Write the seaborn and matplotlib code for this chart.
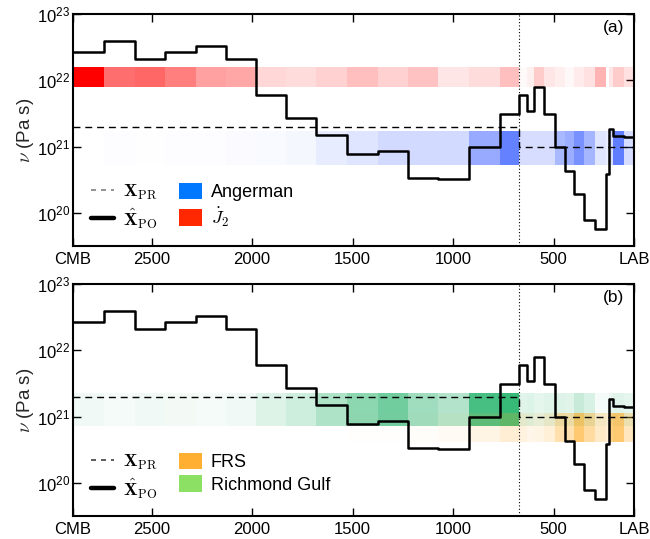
import numpy as np
import pandas as pd
import matplotlib
matplotlib.use("Agg")
import matplotlib.pyplot as plt
import seaborn as sns
from matplotlib.colors import LinearSegmentedColormap
from matplotlib.lines import Line2D
from matplotlib.patches import Patch
from matplotlib.ticker import NullLocator, FixedLocator, LogFormatterSciNotation

# ---------------- data ----------------
# layer edges (depth, km) from CMB up to LAB
layer_edges = [2891, 2736, 2583, 2434, 2281, 2129, 1981, 1832, 1681, 1530, 1376,
               1223, 1074, 923, 769, 670, 631, 600, 550, 495, 444, 399, 350,
               295, 241, 226, 206, 150, 100]
# posterior viscosity per layer (Pa s)
visc_po = [2.63e22, 3.98e22, 2.09e22, 2.63e22, 3.31e22, 2.09e22, 6.0e21, 2.7e21,
           1.48e21, 7.6e20, 8.5e20, 3.3e20, 3.2e20, 1.0e21, 3.1e21, 6.0e21,
           3.4e21, 7.8e21, 3.1e21, 1.0e21, 4.3e20, 1.95e20, 7.9e19, 5.8e19,
           3.9e20, 1.82e21, 1.45e21, 1.4e21]
# prior viscosity (lower mantle / upper mantle)
prior_edges = [2891, 670, 100]
visc_pr = [2e21, 1e21]

# sensitivity weights per layer for each data set
w_j2 = [1.0, 0.57, 0.6, 0.5, 0.37, 0.35, 0.16, 0.14, 0.18, 0.25, 0.18, 0.24, 0.1,
        0.14, 0.25, 0.02, 0.06, 0.2, 0.1, 0.07, 0.03, 0.08, 0.12, 0.3, 0.0, 0.1,
        0.2, 0.12]
w_angerman = [0.0, 0.01, 0.005, 0.01, 0.01, 0.02, 0.03, 0.05, 0.11, 0.16, 0.22,
              0.22, 0.22, 0.51, 0.76, 0.2, 0.2, 0.2, 0.2, 0.42, 0.49, 0.66, 0.44,
              0.15, 0.1, 0.2, 0.78, 0.2]
w_richmond = [0.07, 0.05, 0.07, 0.055, 0.05, 0.07, 0.15, 0.23, 0.37, 0.53, 0.65,
              0.44, 0.35, 0.84, 0.92, 0.14, 0.16, 0.12, 0.14, 0.15, 0.14, 0.25,
              0.18, 0.05, 0.05, 0.1, 0.14, 0.12]
w_frs = [0, 0, 0, 0, 0, 0, 0, 0, 0, 0.01, 0.01, 0.02, 0.05, 0.12, 0.2, 0.15, 0.1,
         0.12, 0.18, 0.38, 0.36, 0.65, 0.43, 0.25, 0.18, 0.57, 0.65, 0.3]

# vertical extents of the sensitivity bands (Pa s)
band_j2 = [7.9e21, 1.6e22]
band_angerman = [5.2e20, 1.7e21]
band_richmond = [7.3e20, 2.26e21]
band_frs = [4.15e20, 1.12e21]

xtick_pos = [2891, 2500, 2000, 1500, 1000, 500, 100]
xtick_lab = ["CMB", "2500", "2000", "1500", "1000", "500", "LAB"]
transition = 670

# ---------------- style ----------------
sns.set_style("ticks")
plt.rcParams["font.family"] = ["Liberation Sans", "DejaVu Sans"]
plt.rcParams["mathtext.fontset"] = "cm"
plt.rcParams["axes.linewidth"] = 1.5
plt.rcParams["axes.edgecolor"] = "k"
plt.rcParams["text.color"] = "k"
plt.rcParams["xtick.color"] = "k"
plt.rcParams["ytick.color"] = "k"
plt.rcParams["xtick.labelcolor"] = "k"
plt.rcParams["ytick.labelcolor"] = "k"

fig = plt.figure(figsize=(6.5, 5.39), dpi=100)
ax_a = fig.add_axes([0.1123, 0.5436, 0.8631, 0.4304])
ax_b = fig.add_axes([0.1123, 0.0427, 0.8631, 0.4304])

cell_colors = {
    "j2": (1.0, 0.0, 0.0),
    "angerman": (0.2, 0.35, 1.0),
    "richmond": (0.15, 0.70, 0.42),
    "frs": (1.0, 0.68, 0.15),
}
legend_colors = {
    "j2": "#FF2800",
    "angerman": "#0078FF",
    "richmond": "#8CE164",
    "frs": "#FFAF32",
}


def alpha_cmap(rgb):
    return LinearSegmentedColormap.from_list("a", [(*rgb, 0.0), (*rgb, 1.0)])


def draw_band(ax, weights, band, rgb):
    X = np.array(layer_edges, dtype=float)
    Y = np.array(band, dtype=float)
    C = np.array(weights, dtype=float)[None, :]
    ax.pcolormesh(X, Y, C, cmap=alpha_cmap(rgb), vmin=0, vmax=1,
                  shading="flat", edgecolors="none", linewidth=0, zorder=1)


def draw_lines(ax):
    df_po = pd.DataFrame({"depth": layer_edges,
                          "visc": list(visc_po) + [visc_po[-1]]})
    sns.lineplot(data=df_po, x="depth", y="visc", drawstyle="steps-post",
                 sort=False, estimator=None, color="k", lw=1.8, ax=ax, zorder=4)
    df_pr = pd.DataFrame({"depth": prior_edges,
                          "visc": list(visc_pr) + [visc_pr[-1]]})
    sns.lineplot(data=df_pr, x="depth", y="visc", drawstyle="steps-post",
                 sort=False, estimator=None, color="k", lw=1.0,
                 dashes=False, linestyle=(0, (5, 3.5)), ax=ax, zorder=3)
    ax.axvline(transition, color="k", lw=0.8, ls=(0, (1, 2)), zorder=3)


def style_axes(ax, letter):
    ax.set_yscale("log")
    ax.set_xlim(2891, 100)
    ax.set_ylim(10 ** 19.5, 1e23)
    ax.yaxis.set_major_locator(FixedLocator([1e20, 1e21, 1e22, 1e23]))
    ax.yaxis.set_major_formatter(LogFormatterSciNotation())
    ax.yaxis.set_minor_locator(NullLocator())
    ax.xaxis.set_minor_locator(NullLocator())
    ax.set_xticks(xtick_pos)
    ax.set_xticklabels(xtick_lab)
    ax.tick_params(axis="both", which="major", direction="in", top=True,
                   right=True, length=6, width=1.0, color="k", labelsize=12)
    ax.tick_params(axis="x", pad=4)
    ax.tick_params(axis="y", pad=2)
    ax.set_xlabel("")
    ax.set_ylabel(r"$\nu$ (Pa s)", fontsize=13.5, labelpad=1)
    ax.text(0.982, 0.975, letter, transform=ax.transAxes, ha="right", va="top",
            fontsize=12.5)
    for s in ax.spines.values():
        s.set_visible(True)
        s.set_color("k")
        s.set_linewidth(1.5)


def add_legend(ax, name1, col1, name2, col2, dash_col):
    handles = [
        Line2D([], [], color=dash_col, lw=1.2, ls=(0, (3, 3))),
        Line2D([], [], color="k", lw=3.2),
        Patch(facecolor=col1, edgecolor="none"),
        Patch(facecolor=col2, edgecolor="none"),
    ]
    labels = [r"$\mathbf{X}_{\rm PR}$", r"$\hat{\mathbf{X}}_{\rm PO}$", name1, name2]
    ax.legend(handles, labels, loc="lower left", bbox_to_anchor=(0.019, 0.035),
              borderaxespad=0.0, ncol=2, frameon=False,
              fontsize=13, handlelength=1.27, handleheight=1.0,
              handletextpad=0.5, columnspacing=1.2, labelspacing=0.25)


# panel (a)
draw_band(ax_a, w_j2, band_j2, cell_colors["j2"])
draw_band(ax_a, w_angerman, band_angerman, cell_colors["angerman"])
draw_lines(ax_a)
style_axes(ax_a, "(a)")
add_legend(ax_a, "Angerman", legend_colors["angerman"],
           r"$\dot{J}_2$", legend_colors["j2"], "0.5")

# panel (b)
draw_band(ax_b, w_richmond, band_richmond, cell_colors["richmond"])
draw_band(ax_b, w_frs, band_frs, cell_colors["frs"])
draw_lines(ax_b)
style_axes(ax_b, "(b)")
add_legend(ax_b, "FRS", legend_colors["frs"],
           "Richmond Gulf", legend_colors["richmond"], "0.25")

fig.savefig("out.png", dpi=100)
